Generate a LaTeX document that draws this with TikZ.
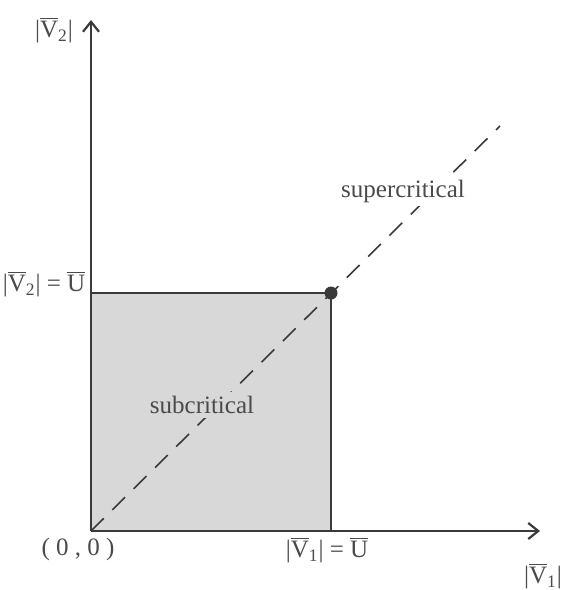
\documentclass[tikz,border=0pt]{standalone}
\usepackage{fontspec}
\setmainfont{Liberation Serif}
\usetikzlibrary{arrows.meta}
\newcommand{\OV}[1]{$\overline{\mbox{#1}}$}
\newcommand{\Vb}[1]{|\OV{V}\textsubscript{#1}|}
\definecolor{ink}{HTML}{3A3A3A}
\definecolor{txt}{HTML}{4A4A4A}
\definecolor{boxgray}{HTML}{D8D8D8}
\tikzset{
  axis/.style={draw=ink, line width=1.2pt, -{Straight Barb[length=5pt,width=8pt,line width=1.1pt]}},
  lbl/.style={text=txt, font=\fontsize{12.5}{14}\selectfont, inner sep=0pt},
  diag/.style={draw=ink, line width=0.8pt, dash pattern=on 9pt off 6pt},
}
\begin{document}
\begin{tikzpicture}[x=0.5pt,y=-0.5pt]
\useasboundingbox (0,0) rectangle (562,590);
\coordinate (O) at (91,531);
\coordinate (Q) at (331,293);
\coordinate (T) at (500,126);
\coordinate (Ytip) at (91,20);
\coordinate (Xtip) at (540,531);
\fill[boxgray] (O) rectangle (Q);
\draw[draw=ink, line width=0.9pt] (O |- Q) -- (Q) -- (Q |- O);
\draw[diag] (O) -- (T);
\draw[axis] (O) -- (Ytip);
\draw[axis] (O) -- (Xtip);
\fill[ink] (Q) circle (6.5);
\node[lbl] (y) at (54,30) {\Vb{2}};
\node[lbl] (yu) at (44,284) {\Vb{2} = \OV{U}};
\node[lbl] (oo) at (78,549) {( 0 , 0 )};
\node[lbl] (xu) at (327,550) {\Vb{1} = \OV{U}};
\node[lbl] (x) at (543,576) {\Vb{1}};
\node[lbl, fill=white, inner sep=2pt] (sup) at (403,191) {supercritical};
\node[lbl, fill=boxgray, inner sep=2pt] (sub) at (202,405) {subcritical};
\end{tikzpicture}
\end{document}
